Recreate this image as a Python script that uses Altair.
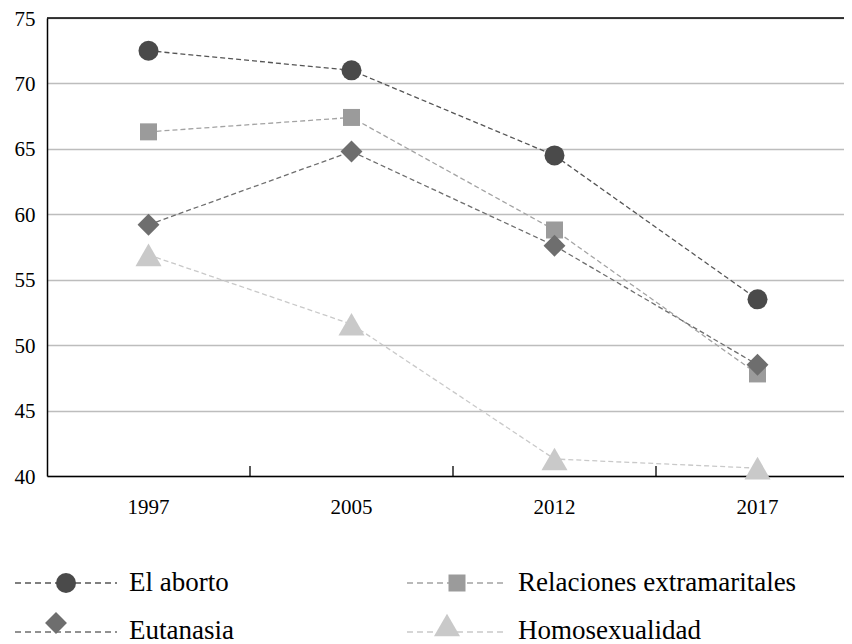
import altair as alt
import pandas as pd

years = ["1997", "2005", "2012", "2017"]
series = ["El aborto", "Relaciones extramaritales", "Eutanasia", "Homosexualidad"]
aborto = [72.5, 71.0, 64.5, 53.5]
relaciones = [66.3, 67.4, 58.8, 47.8]
eutanasia = [59.2, 64.8, 57.6, 48.5]
homosexualidad = [56.9, 51.6, 41.3, 40.6]
y_ticks = [40, 45, 50, 55, 60, 65, 70, 75]

colors = ["#4a4a4a", "#9b9b9b", "#6e6e6e", "#c9c9c9"]
line_colors = ["#555555", "#a3a3a3", "#6e6e6e", "#c9c9c9"]
shapes = ["circle", "square", "diamond", "triangle-up"]
sizes = [400, 289, 480, 680]

FONT = "'Liberation Serif', 'DejaVu Serif', serif"
W, H = 797, 458

rows = []
for name, vals in zip(series, [aborto, relaciones, eutanasia, homosexualidad]):
    for yr, v in zip(years, vals):
        rows.append({"year": yr, "serie": name, "value": v})
df = pd.DataFrame(rows)

xscale = alt.Scale(domain=years, range=[0, 812], paddingInner=0, paddingOuter=0)
yscale = alt.Scale(domain=[40, 75], nice=False, zero=False)

base = alt.Chart(df)

lines = base.mark_line(strokeDash=[5, 3], strokeWidth=1.3).encode(
    x=alt.X("year:N", scale=xscale, sort=years,
            axis=alt.Axis(title=None, labelAngle=0, ticks=False, tickSize=0,
                          domainColor="black", domainWidth=1.5,
                          labelFont=FONT, labelFontSize=21, labelColor="black",
                          labelBaseline="middle", labelPadding=31, grid=False)),
    y=alt.Y("value:Q", scale=yscale,
            axis=alt.Axis(title=None, values=y_ticks, ticks=False, tickSize=0,
                          domainColor="black", domainWidth=1.5,
                          gridColor="#bdbdbd", gridWidth=1.5,
                          labelFont=FONT, labelFontSize=21, labelColor="black",
                          labelPadding=12, labelOffset=1)),
    color=alt.Color("serie:N", scale=alt.Scale(domain=series, range=line_colors), legend=None),
    detail="serie:N",
)

point_layers = []
for i, name in enumerate(series):
    point_layers.append(
        base.transform_filter(alt.datum.serie == name).mark_point(
            filled=True, opacity=1, shape=shapes[i], size=sizes[i], fill=colors[i]
        ).encode(
            x=alt.X("year:N", scale=xscale, sort=years),
            y=alt.Y("value:Q", scale=yscale),
        )
    )

# inward x ticks at category boundaries
tick_df = pd.DataFrame({"year": years[1:]})
xticks = alt.Chart(tick_df).mark_rule(color="black", strokeWidth=1.3).encode(
    x=alt.X("year:N", scale=xscale, sort=years, bandPosition=0),
    y=alt.value(H - 10),
    y2=alt.value(H),
)

top_border = alt.Chart(pd.DataFrame({"a": [0]})).mark_rule(color="black", strokeWidth=1.5).encode(
    x=alt.value(0), x2=alt.value(W + 20), y=alt.value(0)
)

# manual legend
legend_layout = [
    # series index, line x0, x1, line y, marker x, marker y, text x, text baseline y
    (0, -32, 70, 565, 19, 565, 82, 573),
    (1, 360, 460, 565, 410, 565, 471, 573),
    (2, -32, 70, 614, 9, 605, 82, 621),
    (3, 360, 460, 614, 400, 607, 471, 621),
]
legend_layers = []
for i, x0, x1, ly, mx, my, tx, ty in legend_layout:
    ldf = pd.DataFrame({"serie": [series[i]]})
    lc = alt.Chart(ldf)
    legend_layers.append(
        lc.mark_rule(color=line_colors[i], strokeDash=[6, 4], strokeWidth=1.3).encode(
            x=alt.value(x0), x2=alt.value(x1), y=alt.value(ly))
    )
    legend_layers.append(
        lc.mark_point(filled=True, opacity=1, shape=shapes[i], size=sizes[i],
                      fill=colors[i]).encode(x=alt.value(mx), y=alt.value(my))
    )
    legend_layers.append(
        lc.mark_text(font=FONT, fontSize=27, align="left", baseline="alphabetic",
                     color="black").encode(x=alt.value(tx), y=alt.value(ty), text="serie:N")
    )

chart = alt.layer(lines, xticks, top_border, *point_layers, *legend_layers).properties(
    width=W, height=H,
    autosize=alt.AutoSizeParams(type="none"),
    padding={"left": 39, "top": 10, "right": 0, "bottom": 168},
).configure_view(stroke=None)

chart.save("out.html", embed_options={"renderer": "svg", "actions": False})
